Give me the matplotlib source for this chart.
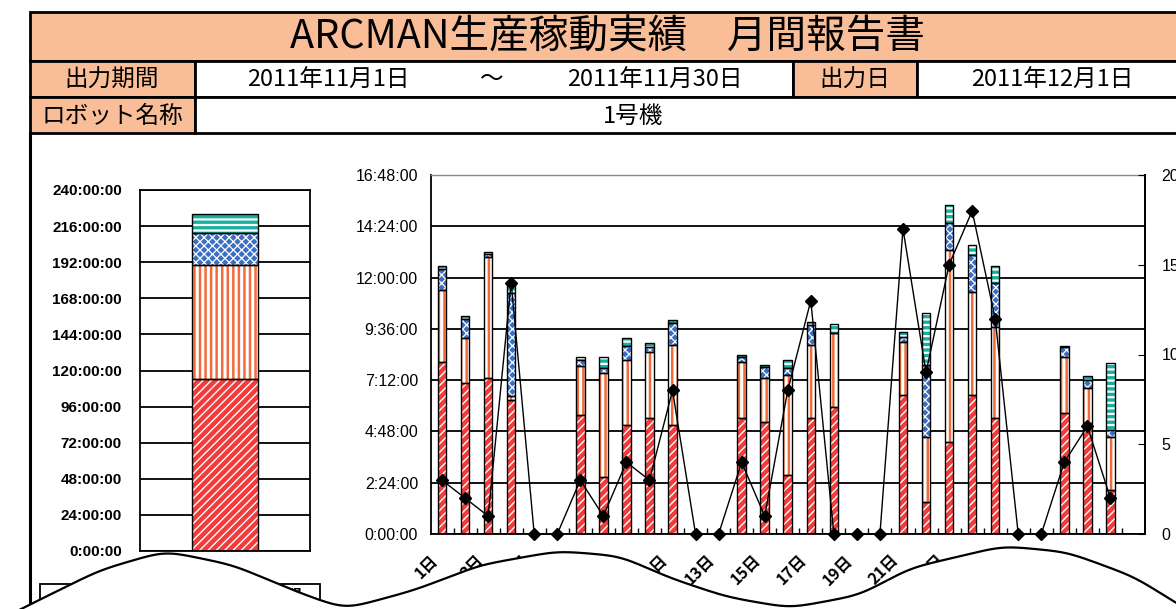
import numpy as np
import matplotlib
matplotlib.use("Agg")
import matplotlib.pyplot as plt
import matplotlib.transforms as mtransforms
from matplotlib.patches import Rectangle
from matplotlib.ticker import FuncFormatter

##########################
# data (hours per day, Nov 2011)
days = list(range(1, 32))
arc_hours = [8.06, 7.08, 7.28, 6.27, 0, 0, 5.57, 2.68, 5.10, 5.41, 5.10, 0, 0, 5.41, 5.26, 2.76,
             5.41, 5.96, 0, 0, 6.50, 1.51, 4.32, 6.50, 5.41, 0, 0, 5.65, 5.18, 2.06, 0]
work_hours = [3.36, 2.08, 5.70, 0.20, 0, 0, 2.29, 4.84, 3.04, 3.12, 3.74, 0, 0, 2.65, 2.02, 4.68,
              3.43, 3.43, 0, 0, 2.50, 3.03, 8.97, 4.84, 4.29, 0, 0, 2.65, 1.64, 2.49, 0]
wait_hours = [0.97, 0.90, 0.10, 4.80, 0, 0, 0.30, 0.23, 0.66, 0.24, 1.05, 0, 0, 0.21, 0.52, 0.31,
              0.94, 0.00, 0, 0, 0.23, 3.37, 1.25, 1.72, 2.03, 0, 0, 0.46, 0.39, 0.32, 0]
stop_hours = [0.15, 0.15, 0.10, 0.55, 0, 0, 0.13, 0.52, 0.36, 0.15, 0.12, 0, 0, 0.11, 0.11, 0.39,
              0.16, 0.44, 0, 0, 0.24, 2.45, 0.86, 0.46, 0.81, 0, 0, 0.05, 0.18, 3.15, 0]
alarm_count = [3, 2, 1, 14, 0, 0, 3, 1, 4, 3, 8, 0, 0, 4, 1, 8, 13, 0, 0, 0, 17, 9, 15, 18, 12,
               0, 0, 4, 6, 2, np.nan]
month_total = [114.2, 76.0, 21.0, 12.7]   # left bar, hours
day_labels = [f"{d}日" if d % 2 == 1 and d <= 30 else "" for d in days]

title = "ARCMAN生産稼動実績\u3000月間報告書"
period_from = "2011年11月1日"
period_to = "2011年11月30日"
out_date = "2011年12月1日"
robot = "1号機"
#########################
W, H = 1176, 609
peach = '#F9BD97'
seg_colors = ['#F23C3C', '#F26B3A', '#3A6FC4', '#14B0A0']
seg_hatch = ['////', '|||', 'xxxx', '---']
seg_hlw = [1.0, 2.2, 0.9, 1.6]
jp = ['Noto Sans CJK JP', 'DejaVu Sans']
num = ['Liberation Sans', 'DejaVu Sans']


def px(x0, y0, x1, y1):
    return [x0 / W, 1 - y1 / H, (x1 - x0) / W, (y1 - y0) / H]


def hms(v, pos=None):
    m = int(round(v * 60))
    return "%d:%02d:00" % (m // 60, m % 60)


def stacked(ax, x, series, width):
    bottom = np.zeros(len(x))
    for vals, c, h, hl in zip(series, seg_colors, seg_hatch, seg_hlw):
        vals = np.asarray(vals, float)
        with plt.rc_context({'hatch.linewidth': hl}):
            ax.bar(x, vals, width, bottom=bottom, color=c, edgecolor='white', hatch=h,
                   linewidth=0, zorder=2)
        ax.bar(x, vals, width, bottom=bottom, facecolor='none', edgecolor='black',
               linewidth=1.0, zorder=3)
        bottom = bottom + vals


fig = plt.figure(figsize=(W / 100, H / 100), dpi=100)
fig.patch.set_facecolor('white')

# ---- left: month total
axl = fig.add_axes(px(140, 190, 310, 551))
stacked(axl, [0], [[v] for v in month_total], 0.39)
axl.set_xlim(-0.5, 0.5)
axl.set_ylim(0, 240)
axl.set_yticks(np.arange(0, 241, 24))
axl.yaxis.set_major_formatter(FuncFormatter(hms))
axl.set_xticks([])
axl.tick_params(axis='y', length=0, pad=13)
for t in axl.get_yticklabels():
    t.set_fontfamily(num)
    t.set_fontsize(11)
    t.set_fontweight('bold')
axl.grid(axis='y', color='black', lw=1.3)
axl.set_axisbelow(True)
for s in axl.spines.values():
    s.set_linewidth(1.3)

# ---- main: daily stacked bars + count line
ax = fig.add_axes(px(430.5, 175, 1145, 534))
idx = [i for i in range(len(days)) if arc_hours[i] + work_hours[i] + wait_hours[i] + stop_hours[i] > 0]
xs = np.array(days)[idx]
stacked(ax, xs, [np.array(s)[idx] for s in (arc_hours, work_hours, wait_hours, stop_hours)], 0.37)
ax.set_xlim(0.5, 31.5)
ax.set_ylim(0, 16.8)
ax.set_yticks(np.arange(0, 16.81, 2.4))
ax.yaxis.set_major_formatter(FuncFormatter(hms))
ax.tick_params(axis='y', length=0, pad=9)
for t in ax.get_yticklabels():
    t.set_fontfamily(num)
    t.set_fontsize(11.5)
ax.set_xticks(days)
ax.set_xticklabels(day_labels, rotation=45, ha='right', va='center', rotation_mode='anchor',
                   fontfamily=jp, fontsize=11.5, fontweight='bold')
ax.set_xticks(np.arange(1.5, 31, 1), minor=True)
ax.tick_params(axis='x', which='major', length=0, pad=17)
ax.tick_params(axis='x', which='minor', direction='in', length=4, width=1)
shift = mtransforms.ScaledTranslation(-7 / 100, 0, fig.dpi_scale_trans)
for t in ax.get_xticklabels():
    t.set_transform(t.get_transform() + shift)
ax.grid(axis='y', color='black', lw=1.3)
ax.set_axisbelow(True)
for s in ax.spines.values():
    s.set_linewidth(1.3)
ax.spines['top'].set_color('#888888')
ax.spines['top'].set_linewidth(1.0)

ax2 = ax.twinx()
ax2.plot(days, alarm_count, color='black', lw=1.0, marker='D', ms=6, clip_on=False, zorder=5)
ax2.set_ylim(0, 20)
ax2.set_yticks([0, 5, 10, 15, 20])
ax2.tick_params(axis='y', direction='in', length=5, pad=12)
for t in ax2.get_yticklabels():
    t.set_fontfamily(num)
    t.set_fontsize(11.5)
for k in ('top', 'left', 'bottom'):
    ax2.spines[k].set_visible(False)
ax2.spines['right'].set_linewidth(1.3)

# ---- report header, frame and torn edge
ov = fig.add_axes([0, 0, 1, 1], zorder=10)
ov.set_xlim(0, W)
ov.set_ylim(H, 0)
ov.axis('off')
ov.patch.set_alpha(0)


def cell(x0, x1, y0, y1, fc):
    ov.add_patch(Rectangle((x0, y0), x1 - x0, y1 - y0, facecolor=fc, edgecolor='black', lw=2))


cell(30, 1200, 12, 61, peach)
ov.text(608, 38, title, ha='center', va='center', fontsize=28.5, fontfamily=jp)
cell(30, 195, 61, 97, peach)
cell(195, 793, 61, 97, 'white')
cell(793, 917, 61, 97, peach)
cell(917, 1200, 61, 97, 'white')
cell(30, 195, 97, 133, peach)
cell(195, 1200, 97, 133, 'white')
row_txt = [(112, 80, "出力期間"), (328, 80, period_from), (492, 80, "～"), (655, 80, period_to),
           (855, 80, "出力日"), (1052, 80, out_date), (112, 116, "ロボット名称"), (633, 116, robot)]
for x, y, s in row_txt:
    ov.text(x, y, s, ha='center', va='center', fontsize=17, fontfamily=jp)
ov.plot([30, 30], [133, 640], color='black', lw=2.2)

# legend box under the left chart (mostly torn away)
ov.add_patch(Rectangle((40, 584), 280, 60, facecolor='white', edgecolor='black', lw=1.3))
ov.text(302, 597, "合計稼動時間", ha='right', va='center', fontsize=12, fontweight='bold', fontfamily=jp)

# torn-paper wave
kx = [-60, 33, 100, 165, 233, 300, 345, 415, 480, 558, 620, 670, 727, 790, 860, 910, 1003, 1067,
      1135, 1176, 1240]
ky = [650, 603, 570, 551, 565, 593, 609, 590, 565, 551, 556, 578, 597, 608, 595, 568, 546, 552,
      577, 603, 640]
wx = np.arange(-60, 1241)
wy = np.interp(wx, kx, ky)
ker = np.exp(-0.5 * (np.arange(-40, 41) / 13.0) ** 2)
ker /= ker.sum()
wy = np.convolve(np.pad(wy, 40, mode='edge'), ker, mode='valid')
ov.fill(np.r_[wx, 1240, -60], np.r_[wy, 720, 720], color='white', zorder=20)
ov.plot(wx, wy, color='black', lw=1.6, zorder=21)

fig.savefig('out.png', dpi=100, facecolor='white')
